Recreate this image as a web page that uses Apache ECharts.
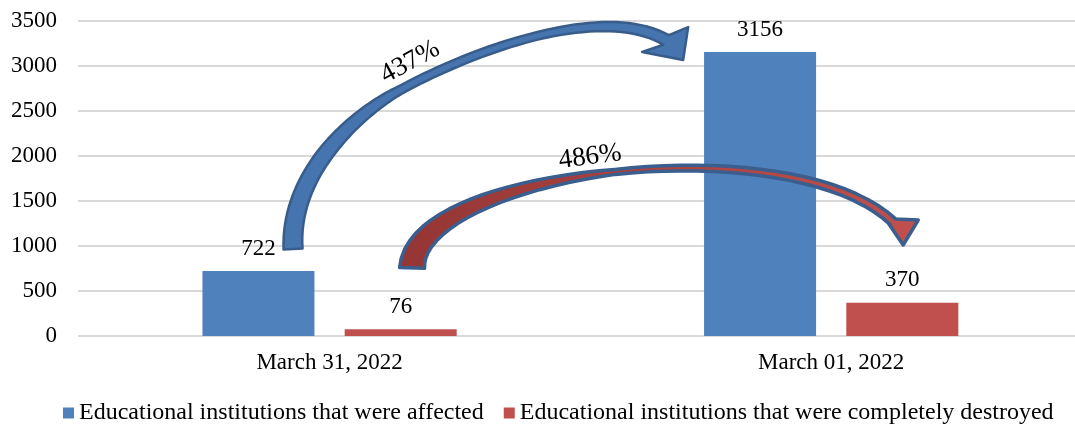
<!DOCTYPE html>
<html>
<head>
<meta charset="utf-8">
<script src="https://cdn.jsdelivr.net/npm/echarts@6/dist/echarts.min.js"></script>
<style>
  html, body { margin: 0; padding: 0; background: #fff; overflow: hidden; }
  #main { width: 1082px; height: 428px; }
</style>
</head>
<body>
<div id="main"></div>
<script>
// data
const categories = ['March 31, 2022', 'March 01, 2022']
const affected = [722, 3156]
const destroyed = [76, 370]
const seriesNames = [
  'Educational institutions that were affected',
  'Educational institutions that were completely destroyed'
]
const yMin = 0
const yMax = 3500
const yStep = 500
const growthLabels = ['437%', '486%']

const FONT = '"Liberation Serif", "Times New Roman", serif'

// curved arrows: cubic segments with points as [category position, value],
// band width (px) at start / middle / end of each segment
const arrows = [
  {
    segments: [
      { curve: [[-0.0728, 967], [-0.0808, 1844], [0.0608, 2500], [0.1406, 2733]], widths: [19, 15, 8] },
      { curve: [[0.1406, 2733], [0.2981, 3209], [0.5454, 3689], [0.671, 3289]], widths: [8, 7.5, 11] }
    ],
    head: [[0.6231, 3156], [0.7049, 3067], [0.7149, 3433]],
    fill: '#4674ae',
    stroke: '#385d8a',
    lineWidth: 2.5,
    label: { at: [0.1605, 3044], rotation: 0.5 }
  },
  {
    segments: [
      { curve: [[0.1645, 756], [0.1705, 1844], [0.9182, 2344], [1.1236, 1267]], widths: [25, 5, 8] }
    ],
    head: [[1.1137, 1256], [1.1435, 1011], [1.1735, 1289]],
    fill: {
      type: 'linear', x: 0, y: 0, x2: 1, y2: 0,
      colorStops: [{ offset: 0, color: '#943634' }, { offset: 1, color: '#c0504d' }]
    },
    stroke: '#3a5f8f',
    lineWidth: 3.5,
    label: { at: [0.5195, 1989], rotation: 0.13 }
  }
]

const chart = echarts.init(document.getElementById('main'))

const option = {
  animation: false,
  textStyle: { fontFamily: FONT },
  grid: [
    // full width grid, only for the gridlines and y labels
    { left: 78, right: 7, top: 21, bottom: 92 },
    // grid holding the bars
    { left: 78.75, right: 0, top: 21, bottom: 92 }
  ],
  xAxis: [
    { gridIndex: 0, type: 'value', show: false },
    {
      gridIndex: 1,
      type: 'category',
      data: categories,
      axisLine: { show: false },
      axisTick: { show: false },
      axisLabel: { color: '#000', fontSize: 23, fontFamily: FONT, margin: 15 }
    }
  ],
  yAxis: [
    {
      gridIndex: 0,
      type: 'value',
      min: yMin, max: yMax, interval: yStep,
      axisLine: { show: false },
      axisTick: { show: false },
      axisLabel: { color: '#000', fontSize: 23, fontFamily: FONT, margin: 21, formatter: v => String(v) },
      splitLine: { lineStyle: { color: '#d9d9d9', width: 2 } }
    },
    {
      gridIndex: 1,
      type: 'value',
      min: yMin, max: yMax, interval: yStep,
      show: false
    }
  ],
  legend: {
    top: 396,
    left: 58,
    itemWidth: 11,
    itemHeight: 11,
    itemGap: 20,
    icon: 'rect',
    textStyle: { color: '#000', fontSize: 24, fontFamily: FONT },
    data: seriesNames
  },
  series: [
    {
      name: seriesNames[0],
      type: 'bar',
      xAxisIndex: 1, yAxisIndex: 1,
      data: affected,
      barWidth: 112,
      barGap: '27%',
      itemStyle: { color: '#4f81bd' },
      label: { show: true, position: 'top', distance: 11, color: '#000', fontSize: 23, fontFamily: FONT }
    },
    {
      name: seriesNames[1],
      type: 'bar',
      xAxisIndex: 1, yAxisIndex: 1,
      data: destroyed,
      barWidth: 112,
      barGap: '27%',
      itemStyle: { color: '#c0504d' },
      label: { show: true, position: 'top', distance: 11, color: '#000', fontSize: 23, fontFamily: FONT }
    }
  ]
}

chart.setOption(option)

// map [category position, value] to pixels through the bar axes
const c0 = chart.convertToPixel({ xAxisIndex: 1 }, categories[0])
const c1 = chart.convertToPixel({ xAxisIndex: 1 }, categories[1])
function toPx (p) {
  return [c0 + p[0] * (c1 - c0), chart.convertToPixel({ yAxisIndex: 1 }, p[1])]
}

function bez (p, t) {
  const u = 1 - t
  const a = u * u * u, b = 3 * u * u * t, c = 3 * u * t * t, d = t * t * t
  return [0, 1].map(k => a * p[0][k] + b * p[1][k] + c * p[2][k] + d * p[3][k])
}
function bezTan (p, t) {
  const u = 1 - t
  return [0, 1].map(k =>
    3 * u * u * (p[1][k] - p[0][k]) + 6 * u * t * (p[2][k] - p[1][k]) + 3 * t * t * (p[3][k] - p[2][k]))
}
function widthAt (w, t) {
  return t < 0.5 ? w[0] + (w[1] - w[0]) * t / 0.5 : w[1] + (w[2] - w[1]) * (t - 0.5) / 0.5
}

function arrowPoints (a) {
  const head = a.head.map(toPx)
  const left = [], right = []
  const N = 40
  a.segments.forEach((seg, si) => {
    const pc = seg.curve.map(toPx)
    for (let i = si === 0 ? 0 : 1; i <= N; i++) {
      const t = i / N
      const pt = bez(pc, t)
      const d = bezTan(pc, t)
      const len = Math.hypot(d[0], d[1]) || 1
      const n = [-d[1] / len, d[0] / len]
      const h = widthAt(seg.widths, t) / 2
      left.push([pt[0] + n[0] * h, pt[1] + n[1] * h])
      right.push([pt[0] - n[0] * h, pt[1] - n[1] * h])
    }
  })
  return left.concat(head, right.reverse())
}

const graphics = []
arrows.forEach((a, i) => {
  graphics.push({
    type: 'polygon',
    z: 100,
    shape: { points: arrowPoints(a) },
    style: { fill: a.fill, stroke: a.stroke, lineWidth: a.lineWidth, lineJoin: 'round' }
  })
  const lp = toPx(a.label.at)
  graphics.push({
    type: 'text',
    z: 101,
    x: lp[0],
    y: lp[1],
    rotation: a.label.rotation,
    style: {
      text: growthLabels[i],
      font: '27px ' + FONT,
      fill: '#000',
      align: 'center',
      verticalAlign: 'middle'
    }
  })
})

chart.setOption({ graphic: graphics })
</script>
</body>
</html>
